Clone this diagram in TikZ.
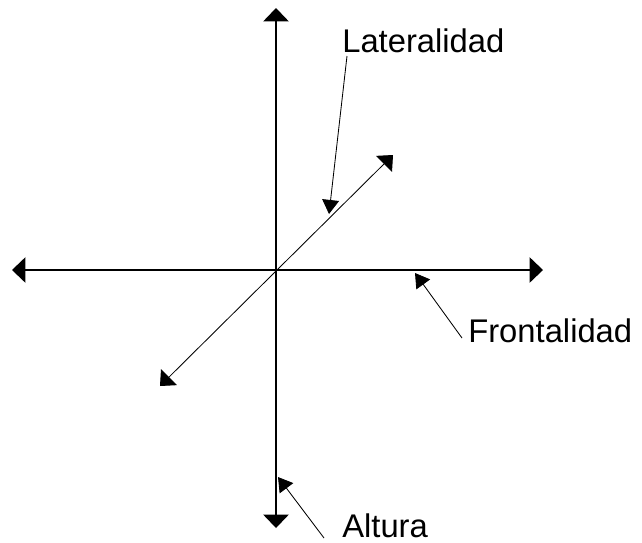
\documentclass[tikz,border=0pt]{standalone}
\usepackage{fontspec}
\setmainfont{Liberation Sans}
\usetikzlibrary{arrows.meta}

\tikzset{
  axis/.style={thick, {Triangle[width=18pt,length=9.5pt]}-{Triangle[width=18pt,length=9.5pt]}},
  diag/.style={semithick, {Triangle[width=16pt,length=9pt]}-{Triangle[width=16pt,length=9pt]}},
  pointer/.style={semithick, -{Triangle[width=12pt,length=10pt]}},
  label/.style={font=\fontsize{23.3}{26}\selectfont, inner sep=0pt, anchor=base west}
}

\begin{document}
\begin{tikzpicture}[x=0.025cm, y=-0.025cm]
  \useasboundingbox (0,0) rectangle (642,542);

  % axis end points
  \coordinate (top) at (276,8);
  \coordinate (bottom) at (276,528);
  \coordinate (left) at (12,270);
  \coordinate (right) at (543,270);
  \coordinate (back) at (393,155);
  \coordinate (front) at (160,386);

  % the three axes
  \draw[axis] (bottom) -- (top);
  \draw[axis] (left) -- (right);
  \draw[diag] (front) -- (back);

  % labels
  \node[label] (lat) at (342,52) {Lateralidad};
  \node[label] (fro) at (468,342) {Frontalidad};
  \node[label] (alt) at (342,537) {Altura};

  % where the pointers touch the axes
  \coordinate (latend) at (329,214);
  \coordinate (froend) at (415,273);
  \coordinate (altend) at (278,477);

  % pointers
  \draw[pointer] ([shift={(5,4)}]lat.base west) -- (latend);
  \draw[pointer] ([shift={(-6,-4)}]fro.base west) -- (froend);
  \draw[pointer] ([shift={(-18,1)}]alt.base west) -- (altend);
\end{tikzpicture}
\end{document}
